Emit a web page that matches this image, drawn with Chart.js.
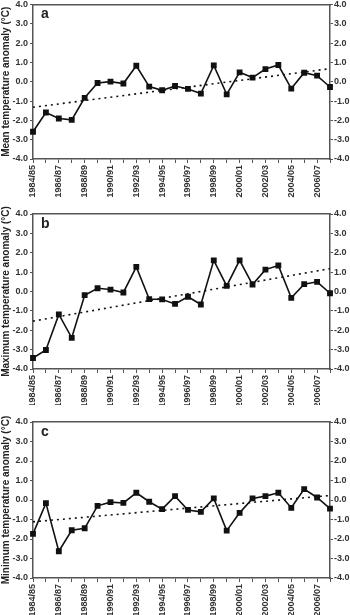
<!DOCTYPE html>
<html><head><meta charset="utf-8">
<script src="https://cdn.jsdelivr.net/npm/chart.js@4/dist/chart.umd.min.js"></script>
<style>
html,body{margin:0;padding:0;background:#fff;overflow:hidden;}
.p{position:absolute;left:0;width:350px;}
</style></head>
<body>
<div class="p" style="top:0;height:200px"><canvas id="ca"></canvas></div>
<div class="p" style="top:200px;height:205px"><canvas id="cb"></canvas></div>
<div class="p" style="top:405px;height:210px"><canvas id="cc"></canvas></div>
<script>
const seasons = ['1984/85','1985/86','1986/87','1987/88','1988/89','1989/90','1990/91','1991/92','1992/93','1993/94','1994/95','1995/96','1996/97','1997/98','1998/99','1999/00','2000/01','2001/02','2002/03','2003/04','2004/05','2005/06','2006/07','2007/08'];
const meanAnom = [-2.59,-1.59,-1.90,-1.97,-0.83,-0.06,0.01,-0.09,0.83,-0.25,-0.44,-0.22,-0.37,-0.61,0.85,-0.65,0.49,0.22,0.66,0.87,-0.35,0.47,0.32,-0.27];
const maxAnom = [-3.43,-3.02,-1.18,-2.39,-0.19,0.17,0.10,-0.05,1.27,-0.39,-0.41,-0.64,-0.27,-0.67,1.61,0.29,1.61,0.36,1.13,1.34,-0.33,0.38,0.50,-0.09];
const minAnom = [-1.74,-0.16,-2.63,-1.55,-1.45,-0.30,-0.11,-0.15,0.37,-0.09,-0.47,0.20,-0.51,-0.61,0.08,-1.57,-0.66,0.08,0.20,0.37,-0.40,0.56,0.13,-0.44];
const meanTrend = [-1.32, 0.68];
const maxTrend = [-1.53, 1.18];
const minTrend = [-1.12, 0.23];
const yTicks = [-4,-3,-2,-1,0,1,2,3,4];

const FONT = "'Liberation Sans', Arial, sans-serif";
const AX = '#555';
const TXT = '#333';

const letterPlugin = {
  id: 'letter',
  afterDraw(chart, args, opts) {
    const ctx = chart.ctx, a = chart.chartArea;
    ctx.save();
    ctx.font = 'bold 14px ' + FONT;
    ctx.fillStyle = '#222';
    ctx.textBaseline = 'middle';
    ctx.textAlign = 'left';
    ctx.fillText(opts.text, a.left + 8, a.top + 10);
    ctx.restore();
  }
};

function makeChart(id, letter, title, values, trend, padTop, xH) {
  const ctx = document.getElementById(id);
  new Chart(ctx, {
    type: 'line',
    data: {
      labels: seasons,
      datasets: [
        {
          data: values,
          borderColor: '#111',
          backgroundColor: '#111',
          borderWidth: 1.6,
          pointStyle: 'rect',
          pointRadius: 3,
          pointHoverRadius: 3,
          tension: 0,
          yAxisID: 'y'
        },
        {
          data: [{x: seasons[0], y: trend[0]}, {x: seasons[seasons.length-1], y: trend[1]}],
          borderColor: '#111',
          borderWidth: 1.6,
          borderDash: [2, 4],
          pointRadius: 0,
          tension: 0,
          yAxisID: 'y'
        }
      ]
    },
    options: {
      responsive: true,
      maintainAspectRatio: false,
      animation: false,
      events: [],
      layout: {padding: {top: padTop, left: 0, right: 0, bottom: 0}},
      plugins: {legend: {display: false}, tooltip: {enabled: false}, letter: {text: letter}},
      scales: {
        x: {
          type: 'category',
          offset: false,
          grid: {display: true, drawOnChartArea: false, drawTicks: true, tickLength: 4, color: AX, lineWidth: 1},
          border: {display: true, color: AX, width: 1.5},
          ticks: {
            autoSkip: false, minRotation: 90, maxRotation: 90, padding: 2,
            color: TXT, font: {family: FONT, size: 9, weight: 'bold'},
            callback: function(v, i) { return i % 2 === 0 ? seasons[i] : ''; }
          },
          afterFit: function(s) { s.height = xH; s.paddingLeft = 0; s.paddingRight = 0; }
        },
        y: {
          position: 'left', min: -4, max: 4,
          afterBuildTicks: function(s) { s.ticks = yTicks.map(v => ({value: v})); },
          grid: {display: true, drawOnChartArea: false, tickLength: 3, color: AX},
          border: {display: true, color: AX, width: 1.5},
          ticks: {color: TXT, padding: 2, font: {family: FONT, size: 9, weight: 'bold'}, callback: v => v.toFixed(1)},
          title: {display: true, text: title, color: '#222', padding: {top: 0, bottom: 1}, font: {family: FONT, size: 10, weight: 'bold'}},
          afterFit: function(s) { s.width = 33; s.paddingTop = 0; s.paddingBottom = 0; }
        },
        y2: {
          position: 'right', min: -4, max: 4,
          afterBuildTicks: function(s) { s.ticks = yTicks.map(v => ({value: v})); },
          grid: {display: true, drawOnChartArea: false, tickLength: 3, color: AX},
          border: {display: true, color: AX, width: 1.5},
          ticks: {color: TXT, padding: 1, font: {family: FONT, size: 9, weight: 'bold'}, callback: v => v.toFixed(1)},
          afterFit: function(s) { s.width = 20; s.paddingTop = 0; s.paddingBottom = 0; }
        },
        top: {
          position: 'top', type: 'category', display: true,
          grid: {display: false},
          border: {display: true, color: AX, width: 1.5},
          ticks: {display: false},
          afterFit: function(s) { s.height = 0; s.paddingLeft = 0; s.paddingRight = 0; }
        }
      }
    },
    plugins: [letterPlugin]
  });
}

makeChart('ca', 'a', 'Mean temperature anomaly (°C)', meanAnom, meanTrend, 4, 41);
makeChart('cb', 'b', 'Maximum temperature anomaly (°C)', maxAnom, maxTrend, 14, 36);
makeChart('cc', 'c', 'Minimum temperature anomaly (°C)', minAnom, minTrend, 17, 37);
</script>
</body></html>
